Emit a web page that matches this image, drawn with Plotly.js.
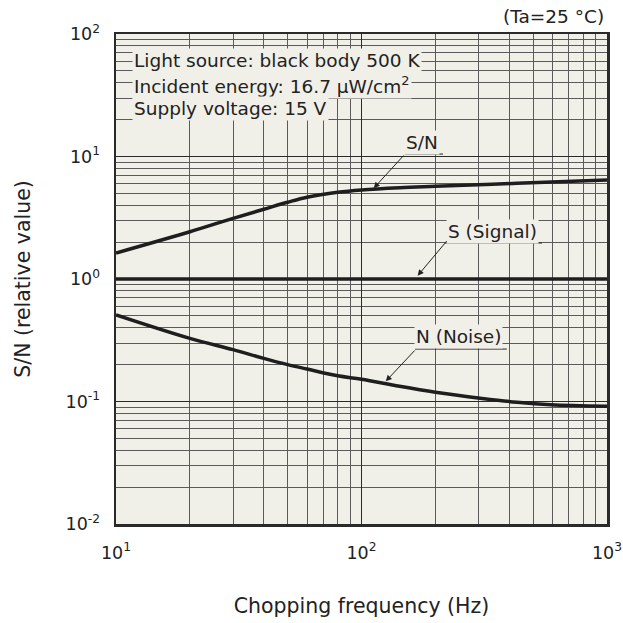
<!DOCTYPE html>
<html>
<head>
<meta charset="utf-8">
<script src="https://cdn.plot.ly/plotly-3.0.1.min.js"></script>
<style>html,body{margin:0;padding:0;background:#fff;}#chart{width:623px;height:623px;}</style>
</head>
<body>
<div id="chart"></div>
<script>
// ---- data ----
const freqSN = [10, 20, 30, 40, 50, 60, 80, 100, 143, 200, 430, 1000];
const snValues = [1.63, 2.43, 3.13, 3.71, 4.23, 4.65, 5.1, 5.33, 5.56, 5.71, 6.04, 6.43];
const freqS = [10, 1000];
const signalValues = [1, 1];
const freqN = [10, 20, 30, 40, 50, 60, 80, 100, 143, 200, 310, 430, 590, 1000];
const noiseValues = [0.51, 0.328, 0.265, 0.225, 0.2, 0.184, 0.162, 0.152, 0.133, 0.119, 0.106, 0.0985, 0.094, 0.0914];

const xTickVals = [10, 100, 1000];
const xTickText = ['10<sup>1</sup>', '10<sup>2</sup>', '10<sup>3</sup>'];
const yTickVals = [0.01, 0.1, 1, 10, 100];
const yTickText = ['10<sup>-2</sup>', '10<sup>-1</sup>', '10<sup>0</sup>', '10<sup>1</sup>', '10<sup>2</sup>'];
const xMinorVals = [20,30,40,50,60,70,80,90,200,300,400,500,600,700,800,900];
const yMinorVals = [0.02,0.03,0.04,0.05,0.06,0.07,0.08,0.09,0.2,0.3,0.4,0.5,0.6,0.7,0.8,0.9,2,3,4,5,6,7,8,9,20,30,40,50,60,70,80,90];

const conditionLines = ['Light source: black body 500 K', 'Incident energy: 16.7 µW/cm<sup>2</sup>', 'Supply voltage: 15 V'];
const curveLabels = ['S/N', 'S (Signal)', 'N (Noise)'];

const INK = '#1e1e1e';
const BG = '#f1f0e8';
const FONT = 'DejaVu Sans, Verdana, sans-serif';

const traces = [
  {x: freqSN, y: snValues, mode: 'lines', line: {color: INK, width: 3.5, shape: 'spline', smoothing: 1}, hoverinfo: 'skip'},
  {x: freqS, y: signalValues, mode: 'lines', line: {color: INK, width: 3.5}, hoverinfo: 'skip'},
  {x: freqN, y: noiseValues, mode: 'lines', line: {color: INK, width: 3.5, shape: 'spline', smoothing: 1}, hoverinfo: 'skip'}
];

const labelFont = {family: FONT, size: 18.5, color: '#222'};
const annotations = [];
// condition text lines
const condY = [0.945, 0.896, 0.847];
conditionLines.forEach((t, i) => annotations.push({
  xref: 'paper', yref: 'paper', x: 0.033, y: condY[i], xanchor: 'left', yanchor: 'middle',
  text: t, showarrow: false, font: labelFont, bgcolor: BG, borderpad: 1
}));
annotations.push({xref: 'paper', yref: 'paper', x: 0.997, y: 1.035, xanchor: 'right', yanchor: 'middle',
  text: '(Ta=25 °C)', showarrow: false, font: labelFont});
// curve labels (log coords)
const labelPos = [[2.246, 1.112], [2.532, 0.384], [2.397, -0.473]];
curveLabels.forEach((t, i) => annotations.push({
  xref: 'x', yref: 'y', x: labelPos[i][0], y: labelPos[i][1], text: t, showarrow: false,
  font: labelFont, bgcolor: BG, borderpad: 1
}));
// leader arrows
const arrowTips = [[2.047, 0.735, 32, -35], [2.226, 0.02, 31, -37], [2.096, -0.841, 31, -33]];
arrowTips.forEach(a => annotations.push({
  xref: 'x', yref: 'y', x: a[0], y: a[1], ax: a[2], ay: a[3], text: '', showarrow: true,
  arrowhead: 2, arrowsize: 1.2, arrowwidth: 1, arrowcolor: '#222', standoff: 1
}));

const shapes = [
  [0.5886, 0.666, 0.755], [0.670, 0.8676, 0.5735], [0.609, 0.796, 0.357]
].map(u => ({type: 'line', xref: 'paper', yref: 'paper', x0: u[0], x1: u[1], y0: u[2], y1: u[2],
  line: {color: '#222', width: 1}, layer: 'above'}));

const layout = {
  width: 623, height: 623,
  margin: {l: 116, r: 16, t: 34, b: 99},
  paper_bgcolor: '#ffffff', plot_bgcolor: BG,
  showlegend: false,
  font: {family: FONT, size: 17, color: '#222'},
  xaxis: {
    type: 'log', range: [1, 3], tickvals: xTickVals, ticktext: xTickText,
    showgrid: true, gridcolor: '#2a2a2a', gridwidth: 1.2,
    minor: {tickvals: xMinorVals, showgrid: true, gridcolor: '#5a5a5a', gridwidth: 1, ticks: ''},
    showline: true, linecolor: '#2a2a2a', linewidth: 2.5, mirror: true,
    ticks: 'outside', ticklen: 11, tickcolor: 'rgba(0,0,0,0)', zeroline: false,
    tickfont: {family: FONT, size: 17.5, color: '#222'},
    title: {text: 'Chopping frequency (Hz)', font: {family: FONT, size: 20.5, color: '#222'}, standoff: 37}
  },
  yaxis: {
    type: 'log', range: [-2, 2], tickvals: yTickVals, ticktext: yTickText,
    showgrid: true, gridcolor: '#2a2a2a', gridwidth: 1.2,
    minor: {tickvals: yMinorVals, showgrid: true, gridcolor: '#5a5a5a', gridwidth: 1, ticks: ''},
    showline: true, linecolor: '#2a2a2a', linewidth: 2.5, mirror: true,
    ticks: 'outside', ticklen: 10, tickcolor: 'rgba(0,0,0,0)', zeroline: false,
    tickfont: {family: FONT, size: 17.5, color: '#222'},
    title: {text: 'S/N (relative value)', font: {family: FONT, size: 20.5, color: '#222'}, standoff: 30}
  },
  annotations: annotations,
  shapes: shapes
};

Plotly.newPlot('chart', traces, layout, {staticPlot: true, displayModeBar: false});
</script>
</body>
</html>
